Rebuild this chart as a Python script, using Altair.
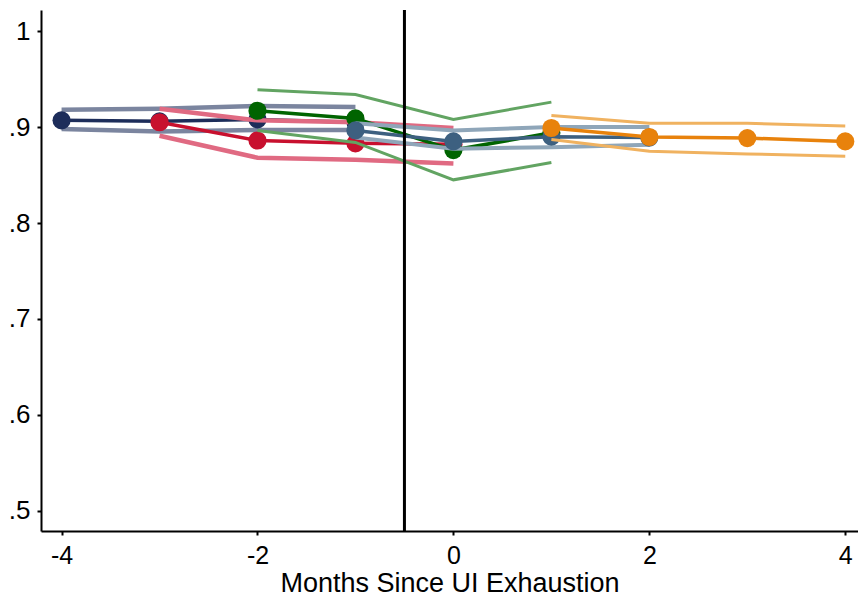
import altair as alt
import pandas as pd

# Each cohort: 4 months of estimates with confidence bounds
series_names = ["A", "B", "C", "D", "E"]
months = {
    "A": [-4, -3, -2, -1],
    "B": [-3, -2, -1, 0],
    "C": [-2, -1, 0, 1],
    "D": [-1, 0, 1, 2],
    "E": [1, 2, 3, 4],
}
est = {
    "A": [0.907, 0.906, 0.908, 0.905],
    "B": [0.905, 0.886, 0.883, 0.882],
    "C": [0.917, 0.909, 0.876, 0.894],
    "D": [0.8965, 0.885, 0.890, 0.889],
    "E": [0.899, 0.8896, 0.8885, 0.885],
}
hi = {
    "A": [0.918, 0.919, 0.922, 0.921],
    "B": [0.919, 0.907, 0.905, 0.899],
    "C": [0.939, 0.934, 0.908, 0.926],
    "D": [0.904, 0.8965, 0.900, 0.900],
    "E": [0.912, 0.904, 0.904, 0.901],
}
lo = {
    "A": [0.898, 0.8955, 0.897, 0.897],
    "B": [0.891, 0.868, 0.866, 0.862],
    "C": [0.8965, 0.884, 0.845, 0.863],
    "D": [0.889, 0.8775, 0.879, 0.8815],
    "E": [0.887, 0.8747, 0.872, 0.8695],
}
main_colors = ["#1d2d5a", "#c8102e", "#006400", "#3d6080", "#e8820c"]
ci_colors = ["#7b859f", "#e06a82", "#62a462", "#8fa6b9", "#f0b260"]
ci_widths = [4.5, 4.5, 3, 4, 3]
cutoff = [-0.5]

rows = []
for s in series_names:
    for m, e, h, l in zip(months[s], est[s], hi[s], lo[s]):
        rows.append({"series": s, "month": m, "est": e, "hi": h, "lo": l})
df = pd.DataFrame(rows)

xscale = alt.Scale(domain=[-4.21, 4.13], nice=False, zero=False)
yscale = alt.Scale(domain=[0.479, 1.022], nice=False, zero=False)

xaxis = alt.Axis(
    values=[-4, -2, 0, 2, 4], grid=False, domainColor="black", domainWidth=2,
    tickColor="black", tickWidth=2, tickSize=4, labelFontSize=25,
    labelFont="Liberation Sans", labelColor="black", labelPadding=8,
    labelExpr="toString(datum.value)",
    title="Months Since UI Exhaustion", titleFont="Liberation Sans",
    titleFontSize=27, titleFontWeight="normal", titleColor="black", titlePadding=2,
)
yaxis = alt.Axis(
    values=[0.5, 0.6, 0.7, 0.8, 0.9, 1.0], grid=False, domainColor="black",
    domainWidth=2, tickColor="black", tickWidth=2, tickSize=4, labelFontSize=26,
    labelFont="Liberation Sans", labelColor="black", labelPadding=7, title=None,
    labelExpr="datum.value >= 1 ? '1' : substring(format(datum.value, '.1f'), 1)",
)

layers = []
for i, s in enumerate(series_names):
    base = alt.Chart(df).transform_filter(alt.datum.series == s)
    for col in ["hi", "lo"]:
        layers.append(
            base.mark_line(color=ci_colors[i], strokeWidth=ci_widths[i]).encode(
                x=alt.X("month:Q", scale=xscale, axis=xaxis),
                y=alt.Y(f"{col}:Q", scale=yscale, axis=yaxis),
            )
        )
    layers.append(
        base.mark_line(color=main_colors[i], strokeWidth=3.5).encode(
            x=alt.X("month:Q", scale=xscale, axis=xaxis),
            y=alt.Y("est:Q", scale=yscale, axis=yaxis),
        )
    )
    layers.append(
        base.mark_circle(color=main_colors[i], size=330, opacity=1).encode(
            x=alt.X("month:Q", scale=xscale, axis=xaxis),
            y=alt.Y("est:Q", scale=yscale, axis=yaxis),
        )
    )

rule = alt.Chart(pd.DataFrame({"x": cutoff})).mark_rule(
    color="black", strokeWidth=3
).encode(x=alt.X("x:Q", scale=xscale, axis=xaxis))

chart = alt.layer(*layers, rule).properties(
    width=817, height=521, background="white",
    padding={"left": 0, "top": 0, "right": 0, "bottom": 0},
).configure_view(stroke=None)

chart.save("out.html", embed_options={"renderer": "svg", "actions": False})
